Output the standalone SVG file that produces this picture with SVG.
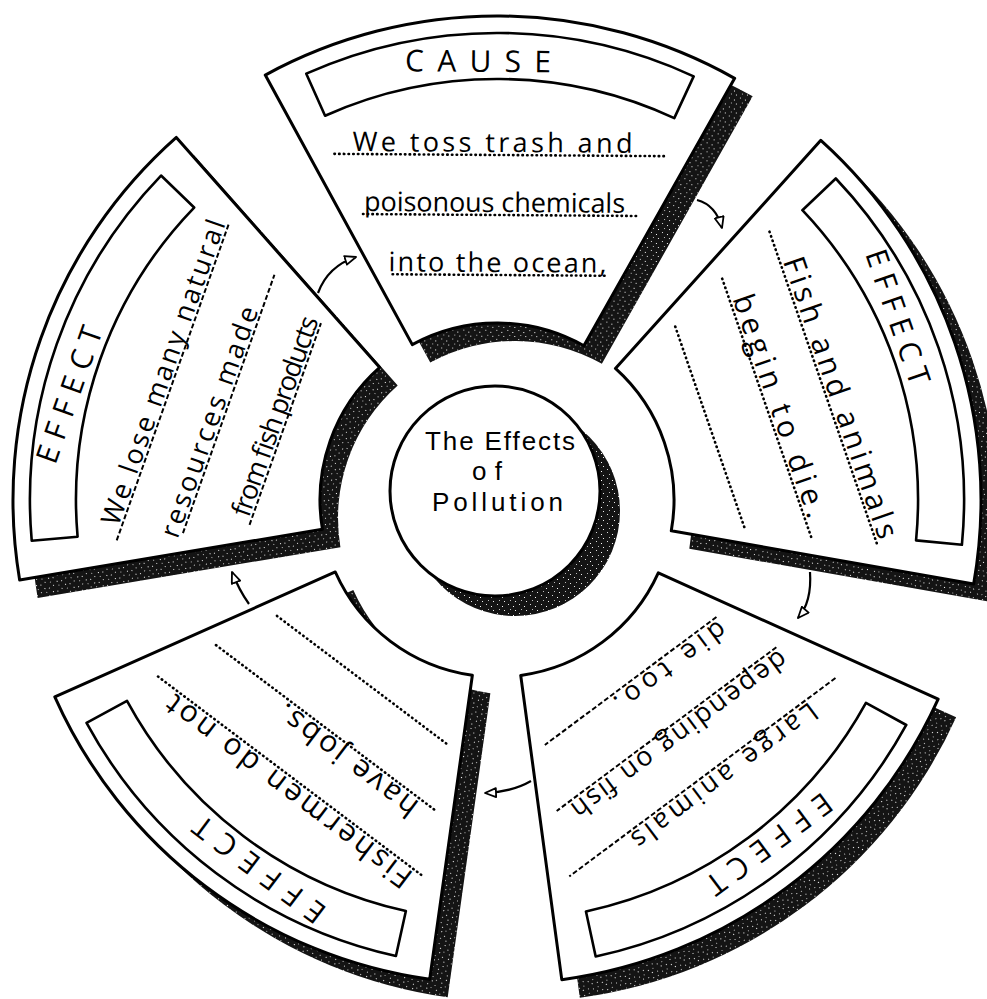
<svg xmlns="http://www.w3.org/2000/svg" xmlns:xlink="http://www.w3.org/1999/xlink" width="987" height="999" viewBox="0 0 987 999">
<style>
.wedge{fill:#fff;stroke:#000;stroke-width:3;stroke-linejoin:round}
.box{fill:#fff;stroke:#000;stroke-width:2.6;stroke-linejoin:round}
.dot{stroke:#000;stroke-width:2.6;stroke-dasharray:0.5 4.2;stroke-linecap:round;fill:none}
.dash{stroke:#000;stroke-width:2;stroke-dasharray:5 2.5;fill:none}
.t{font-family:"Open Sans","DejaVu Sans",sans-serif;font-size:27px;fill:#000}
.big{font-size:30px}
.lbl{font-family:"Open Sans","DejaVu Sans",sans-serif;font-size:30px;fill:#000}
.ctr{font-family:"Liberation Sans","Arial",sans-serif;font-size:26px;fill:#000}
.arr{fill:none;stroke:#000;stroke-width:2.2;marker-end:url(#head)}
</style>
<defs>
<pattern id="speck" width="11" height="9" patternUnits="userSpaceOnUse">
<rect width="11" height="9" fill="#141414"/>
<rect x="2" y="1" width="1" height="1" fill="#ddd"/>
<rect x="7" y="3" width="1" height="1" fill="#fff"/>
<rect x="4" y="6" width="1" height="1" fill="#bbb"/>
<rect x="9" y="7" width="1" height="1" fill="#eee"/>
</pattern>
<path id="wshape" d="M -234.7 -423.3 A 484 484 0 0 1 234.7 -423.3 L 85.8 -154.8 A 177 177 0 0 0 -85.8 -154.8 Z"/>
<path id="bshape" d="M -193.7 -425 A 467 467 0 0 1 193.7 -425 L 174.6 -383.1 A 421 421 0 0 0 -174.6 -383.1 Z"/>
<marker id="head" viewBox="0 0 13 11" refX="12" refY="5.5" markerWidth="13" markerHeight="11" markerUnits="userSpaceOnUse" orient="auto">
<path d="M1 1 L12 5.5 L1 10 Z" fill="#fff" stroke="#000" stroke-width="1.8" stroke-linejoin="round"/>
</marker>
</defs>
<rect width="987" height="999" fill="#fff"/>

<g id="shadows" fill="url(#speck)">
<use href="#wshape" transform="translate(515 518) rotate(0.4)"/>
<use href="#wshape" transform="translate(515 518) rotate(71)"/>
<use href="#wshape" transform="translate(515 518) rotate(143.3)"/>
<use href="#wshape" transform="translate(515 518) rotate(217)"/>
<use href="#wshape" transform="translate(515 518) rotate(289.5)"/>
<circle cx="515" cy="511" r="105"/>
</g>

<g id="cause" transform="translate(497 500) rotate(0.4)">
<use href="#wshape" class="wedge"/>
<use href="#bshape" class="box"/>
<text class="lbl" x="-95" y="-428" textLength="146" lengthAdjust="spacing">CAUSE</text>
<line class="dot" x1="-165" y1="-345" x2="167" y2="-345"/>
<line class="dot" x1="-136" y1="-285" x2="138" y2="-285"/>
<line class="dot" x1="-106" y1="-225" x2="108" y2="-225"/>
<text class="t" x="-147" y="-348" textLength="280" lengthAdjust="spacing">We toss trash and</text>
<text class="t" x="-135" y="-288" textLength="261" lengthAdjust="spacing">poisonous chemicals</text>
<text class="t" x="-110" y="-228" textLength="218" lengthAdjust="spacing">into the ocean,</text>
</g>

<g id="effect-fish" transform="translate(497 500) rotate(71)">
<use href="#wshape" class="wedge"/>
<use href="#bshape" class="box"/>
<text class="lbl" x="-113" y="-428" textLength="141" lengthAdjust="spacing">EFFECT</text>
<line class="dot" x1="-165" y1="-345" x2="167" y2="-345"/>
<line class="dot" x1="-136" y1="-285" x2="138" y2="-285"/>
<line class="dot" x1="-106" y1="-225" x2="108" y2="-225"/>
<text class="t big" x="-133" y="-348" textLength="296" lengthAdjust="spacing">Fish and animals</text>
<text class="t big" x="-114" y="-288" textLength="234" lengthAdjust="spacing">begin to die.</text>
</g>

<g id="effect-large" transform="translate(497 500) rotate(143.3)">
<use href="#wshape" class="wedge"/>
<use href="#bshape" class="box"/>
<text class="lbl" x="-87" y="-428" textLength="149" lengthAdjust="spacing">EFFECT</text>
<line class="dash" x1="-165" y1="-345" x2="167" y2="-345"/>
<line class="dash" x1="-136" y1="-285" x2="138" y2="-285"/>
<line class="dash" x1="-106" y1="-225" x2="108" y2="-225"/>
<text class="t" x="-130" y="-348" textLength="225" lengthAdjust="spacing">Large animals</text>
<text class="t" x="-137" y="-288" textLength="262" lengthAdjust="spacing">depending on fish</text>
<text class="t" x="-106" y="-228" textLength="133" lengthAdjust="spacing">die too.</text>
</g>

<g id="effect-fishermen" transform="translate(497 500) rotate(217)">
<use href="#wshape" class="wedge"/>
<use href="#bshape" class="box"/>
<text class="lbl" x="-111" y="-428" textLength="157" lengthAdjust="spacing">EFFECT</text>
<line class="dot" x1="-165" y1="-345" x2="167" y2="-345"/>
<line class="dot" x1="-136" y1="-285" x2="138" y2="-285"/>
<line class="dot" x1="-106" y1="-225" x2="108" y2="-225"/>
<text class="t big" x="-159" y="-348" textLength="300" lengthAdjust="spacing">Fishermen do not</text>
<text class="t big" x="-121" y="-288" textLength="168" lengthAdjust="spacing">have jobs.</text>
</g>

<g id="effect-resources" transform="translate(497 500) rotate(289.5)">
<use href="#wshape" class="wedge"/>
<use href="#bshape" class="box"/>
<text class="lbl" x="-115" y="-428" textLength="143" lengthAdjust="spacing">EFFECT</text>
<line class="dash" x1="-165" y1="-345" x2="171" y2="-345"/>
<line class="dash" x1="-136" y1="-285" x2="138" y2="-285"/>
<line class="dash" x1="-106" y1="-225" x2="108" y2="-225"/>
<text class="t" x="-152" y="-348" textLength="322" lengthAdjust="spacing">We lose many natural</text>
<text class="t" x="-144" y="-288" textLength="243" lengthAdjust="spacing">resources made</text>
<text class="t" x="-100" y="-228" textLength="210" lengthAdjust="spacing">from fish products</text>
</g>

<g id="center">
<circle cx="495" cy="491" r="105" fill="#fff" stroke="#000" stroke-width="3"/>
<text class="ctr" x="425" y="450" textLength="150" lengthAdjust="spacing">The Effects</text>
<text class="ctr" x="472" y="480" textLength="30" lengthAdjust="spacing">of</text>
<text class="ctr" x="432" y="511" textLength="131" lengthAdjust="spacing">Pollution</text>
</g>

<g id="connectors">
<path class="arr" d="M 697 200 Q 716 205 722 228"/>
<path class="arr" d="M 810 572 Q 812 602 798 618"/>
<path class="arr" d="M 531 781 Q 512 792 485 793"/>
<path class="arr" d="M 249 604 Q 239 590 232 572"/>
<path class="arr" d="M 318 293 Q 328 266 356 257"/>
</g>
</svg>
